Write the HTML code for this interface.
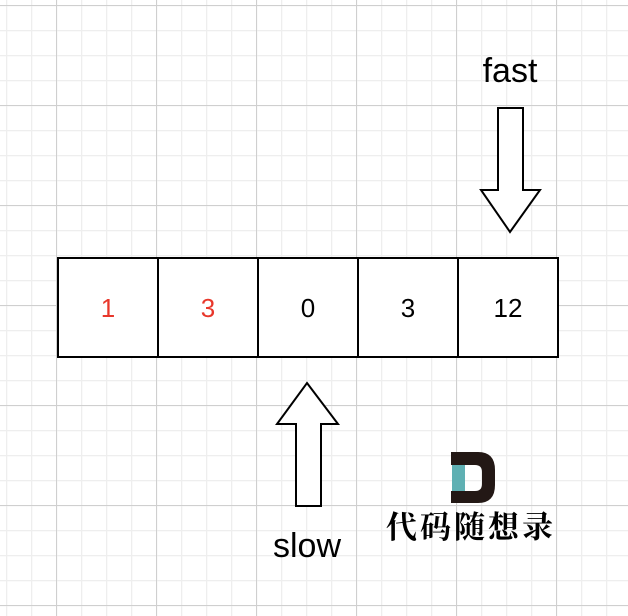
<!DOCTYPE html>
<html><head><meta charset="utf-8"><style>
html,body{margin:0;padding:0;background:#fff;}
body{width:628px;height:616px;overflow:hidden;position:relative;}
svg{position:absolute;left:0;top:0;}
</style></head><body>
<svg width="628" height="616" viewBox="0 0 628 616" xmlns="http://www.w3.org/2000/svg">
<defs>
<pattern id="minor" x="6" y="5" width="25" height="25" patternUnits="userSpaceOnUse">
<path d="M0.5 0V25M0 0.5H25" stroke="#eeeeee" stroke-width="1.5" fill="none"/>
</pattern>
<pattern id="major" x="56" y="5" width="100" height="100" patternUnits="userSpaceOnUse">
<path d="M0.5 0V100M0 0.5H100" stroke="#cfcfcf" stroke-width="1" fill="none"/>
</pattern>
</defs>
<rect width="628" height="616" fill="url(#minor)"/>
<rect width="628" height="616" fill="url(#major)"/>

<g fill="#fff" stroke="#000" stroke-width="2">
<rect x="58" y="258" width="100" height="99"/>
<rect x="158" y="258" width="100" height="99"/>
<rect x="258" y="258" width="100" height="99"/>
<rect x="358" y="258" width="100" height="99"/>
<rect x="458" y="258" width="100" height="99"/>
<polygon points="498,108 523,108 523,190 540,190 510,232 481,190 498,190"/>
<polygon points="307,383 338,424 321,424 321,506 296,506 296,424 277,424"/>
</g>
<g font-family="Liberation Sans, sans-serif" font-size="26" text-anchor="middle">
<text x="108" y="317" fill="#e8372b">1</text>
<text x="208" y="317" fill="#e8372b">3</text>
<text x="308" y="317">0</text>
<text x="408" y="317">3</text>
<text x="508" y="317">12</text>
</g>
<text x="510" y="82" font-family="Liberation Sans, sans-serif" font-size="34" text-anchor="middle">fast</text>
<text x="307" y="557" font-family="Liberation Sans, sans-serif" font-size="34" text-anchor="middle">slow</text>

<rect x="452" y="465" width="13" height="27" fill="#5fb0b3"/>
<path d="M451 452H478Q495 452 495 470V485Q495 503 478 503H451V491H475Q482 491 482 484V472Q482 465 475 465H451Z" fill="#231815"/>
<text x="471" y="538" font-family="Noto Serif CJK SC, serif" font-weight="bold" font-size="31" text-anchor="middle" letter-spacing="3">代码随想录</text>
</svg>
</body></html>
